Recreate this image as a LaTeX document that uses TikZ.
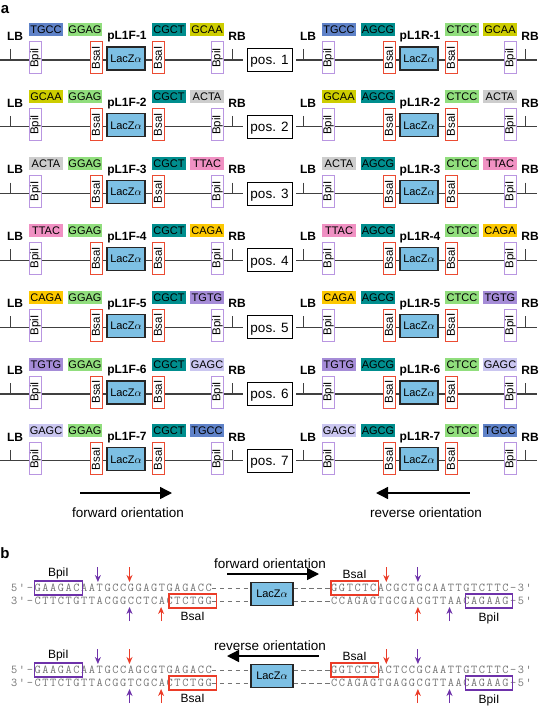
\documentclass[tikz,border=0pt]{standalone}
\usepackage{fontspec}
\setmainfont{Liberation Sans}
\newfontfamily\seqfont{lmmono12-regular.otf}[LetterSpace=13.3]
\usetikzlibrary{arrows.meta}

\definecolor{TGCC}{RGB}{95,130,200}
\definecolor{GGAG}{RGB}{145,222,125}
\definecolor{CGCT}{RGB}{0,142,142}
\definecolor{GCAA}{RGB}{205,205,0}
\definecolor{ACTA}{RGB}{205,205,205}
\definecolor{TTAC}{RGB}{240,145,195}
\definecolor{CAGA}{RGB}{252,200,0}
\definecolor{TGTG}{RGB}{165,140,215}
\definecolor{GAGC}{RGB}{202,198,240}
\colorlet{AGCG}{CGCT}
\colorlet{CTCC}{GGAG}
\definecolor{lacz}{RGB}{125,192,228}
\definecolor{bpi}{RGB}{185,150,225}
\definecolor{bsa}{RGB}{235,75,50}
\definecolor{cutred}{RGB}{235,60,40}
\definecolor{cutpur}{RGB}{110,50,170}
\definecolor{seqgray}{RGB}{115,115,115}

\newcommand{\chw}{7.9}

% one cassette, drawn relative to the start of its backbone
\newcommand{\cassette}[6]{%
  \node[lbl] (#1lb) at (15,-24) {LB};
  \draw[backbone] (10.5,-11) -- (10.5,0);
  \node[tagbox, fill=#3] (#1ta) at (46,-30) {#3};
  \node[tagbox, fill=#4] (#1tb) at (85,-30) {#4};
  \node[lbl] (#1nm) at (127,-24.5) {#2};
  \node[tagbox, fill=#5] (#1tc) at (169,-30) {#5};
  \node[tagbox, fill=#6] (#1td) at (207,-30) {#6};
  \node[lbl] (#1rb) at (237,-24) {RB};
  \draw[backbone] (232.5,-11) -- (232.5,0);
  \node[bpibox] (#1bpa) at (35.5,-2) {BpiI};
  \node[bsabox] (#1bsa) at (96,-2) {BsaI};
  \node[laczbox] (#1lz) at (126,-1.5) {LacZ$\alpha$};
  \node[bsabox] (#1bsb) at (158,-2) {BsaI};
  \node[bpibox] (#1bpb) at (217.5,-2) {BpiI};
}

\begin{document}
\begin{tikzpicture}[x=1pt,y=-1pt,
  backbone/.style={draw=black!75, line width=1.1pt},
  tagbox/.style={minimum width=34pt, minimum height=13pt, inner sep=0pt,
    text height=8pt, text depth=0pt, font=\fontsize{11}{11}\selectfont},
  lbl/.style={inner sep=0pt, text height=8.6pt, text depth=0pt,
    font=\bfseries\fontsize{12}{12}\selectfont},
  bpibox/.style={draw=bpi, fill=white, line width=1pt, minimum width=32pt,
    minimum height=12pt, inner sep=0pt, rotate=90,
    font=\fontsize{11.5}{11.5}\selectfont},
  bsabox/.style={bpibox, draw=bsa},
  laczbox/.style={draw=black!85, fill=lacz, line width=1.1pt, minimum width=38pt,
    minimum height=23pt, inner sep=0pt, font=\fontsize{11}{11}\selectfont},
  posbox/.style={draw, line width=1pt, minimum width=45pt, minimum height=23pt,
    inner sep=0pt, text height=9.6pt, text depth=0pt,
    font=\fontsize{13.5}{13.5}\selectfont},
  orient/.style={inner sep=0pt, font=\fontsize{13.5}{13.5}\selectfont},
  fwdarrow/.style={line width=1.4pt, -{Triangle[length=12pt,width=12pt]}},
  revarrow/.style={line width=1.4pt, {Triangle[length=12pt,width=12pt]}-},
  panel/.style={inner sep=0pt, font=\bfseries\fontsize{15}{15}\selectfont},
  seqtext/.style={anchor=west, inner sep=0pt, text height=7.5pt, text depth=0pt,
    text=seqgray, font=\seqfont\fontsize{12}{12}\selectfont},
  dashline/.style={draw=seqgray, line width=0.8pt, dash pattern=on 4.5pt off 3.4pt},
  bpisite/.style={draw=cutpur, line width=1.1pt},
  bsasite/.style={draw=cutred, line width=1.1pt},
  sitelbl/.style={inner sep=0pt, font=\fontsize{12}{12}\selectfont},
  cutr/.style={draw=cutred, line width=1pt, -{Stealth[length=7pt,width=6pt]}},
  cutp/.style={cutr, draw=cutpur}]
\useasboundingbox (0,0) rectangle (542,708);

% panel a
\node[panel] (pa) at (5,10) {a};
\foreach \r/\ta/\tb in {1/TGCC/GCAA, 2/GCAA/ACTA, 3/ACTA/TTAC, 4/TTAC/CAGA,
                        5/CAGA/TGTG, 6/TGTG/GAGC, 7/GAGC/TGCC}{
  \pgfmathsetmacro{\yy}{60+(\r-1)*66.8}
  \draw[backbone] (0,\yy) -- (243,\yy);
  \draw[backbone] (296,\yy) -- (537,\yy);
  \begin{scope}[shift={(0,\yy)}]
    \cassette{f\r}{pL1F-\r}{\ta}{GGAG}{CGCT}{\tb}
  \end{scope}
  \begin{scope}[shift={(293,\yy)}]
    \cassette{r\r}{pL1R-\r}{\ta}{AGCG}{CTCC}{\tb}
  \end{scope}
  \node[posbox] (pos\r) at (269.5,\yy) {pos. \r};
}
\coordinate (fwa) at (80,493);
\coordinate (fwb) at (172,493);
\draw[fwdarrow] (fwa) -- (fwb);
\node[orient] (fwt) at (128,513) {forward orientation};
\coordinate (rva) at (376,493);
\coordinate (rvb) at (470,493);
\draw[revarrow] (rva) -- (rvb);
\node[orient] (rvt) at (426,513) {reverse orientation};

% panel b
\node[panel] (pb) at (5,553) {b};
\foreach \k/\yy/\ot/\ad/\sa/\sb/\sc/\sd in {
  f/588/forward orientation/fwdarrow/GAAGACAATGCCGGAGTGAGACC/CTTCTGTTACGGCCTCACTCTGG/GGTCTCACGCTGCAATTGTCTTC/CCAGAGTGCGACGTTAACAGAAG,
  r/670/reverse orientation/revarrow/GAAGACAATGCCAGCGTGAGACC/CTTCTGTTACGGTCGCACTCTGG/GGTCTCACTCCGCAATTGTCTTC/CCAGAGTGAGGCGTTAACAGAAG}{
  \node[orient] (ot\k) at (270,\yy-24) {\ot};
  \coordinate (oa\k) at (227,\yy-14);
  \coordinate (ob\k) at (319,\yy-14);
  \draw[\ad] (oa\k) -- (ob\k);
  \node[laczbox, minimum width=42pt] (lz\k) at (272,\yy+6) {LacZ$\alpha$};
  \node[seqtext] (ta\k) at (11,\yy) {5'-\sa};
  \node[seqtext] (ba\k) at (11,\yy+13) {3'-\sb};
  \node[seqtext] (tb\k) at (331,\yy) {\sc-3'};
  \node[seqtext] (bb\k) at (331,\yy+13) {\sd-5'};
  \draw[dashline] (ta\k.east) -- (ta\k.east -| lz\k.west);
  \draw[dashline] (ba\k.east) -- (ba\k.east -| lz\k.west);
  \draw[dashline] (lz\k.east |- tb\k.west) -- (tb\k.west);
  \draw[dashline] (lz\k.east |- bb\k.west) -- (bb\k.west);
  % recognition sites
  \draw[bpisite] (11+3*\chw,\yy-7) rectangle (11+9*\chw,\yy+7);
  \draw[bsasite] (11+20*\chw,\yy+6) rectangle (11+26*\chw,\yy+20);
  \draw[bsasite] (331,\yy-7) rectangle (331+6*\chw,\yy+7);
  \draw[bpisite] (331+17*\chw,\yy+6) rectangle (331+23*\chw,\yy+20);
  \node[sitelbl] (la\k) at (58.4,\yy-15) {BpiI};
  \node[sitelbl] (lb\k) at (192.7,\yy+28) {BsaI};
  \node[sitelbl] (lc\k) at (354.7,\yy-14) {BsaI};
  \node[sitelbl] (ld\k) at (489,\yy+30) {BpiI};
  % cut positions
  \draw[cutp] (11+11*\chw,\yy-21) -- (11+11*\chw,\yy-6);
  \draw[cutr] (11+15*\chw,\yy-21) -- (11+15*\chw,\yy-6);
  \draw[cutp] (11+15*\chw,\yy+33) -- (11+15*\chw,\yy+19);
  \draw[cutr] (11+19*\chw,\yy+33) -- (11+19*\chw,\yy+19);
  \draw[cutr] (331+7*\chw,\yy-21) -- (331+7*\chw,\yy-6);
  \draw[cutp] (331+11*\chw,\yy-21) -- (331+11*\chw,\yy-6);
  \draw[cutr] (331+11*\chw,\yy+33) -- (331+11*\chw,\yy+19);
  \draw[cutp] (331+15*\chw,\yy+33) -- (331+15*\chw,\yy+19);
}
\end{tikzpicture}
\end{document}
